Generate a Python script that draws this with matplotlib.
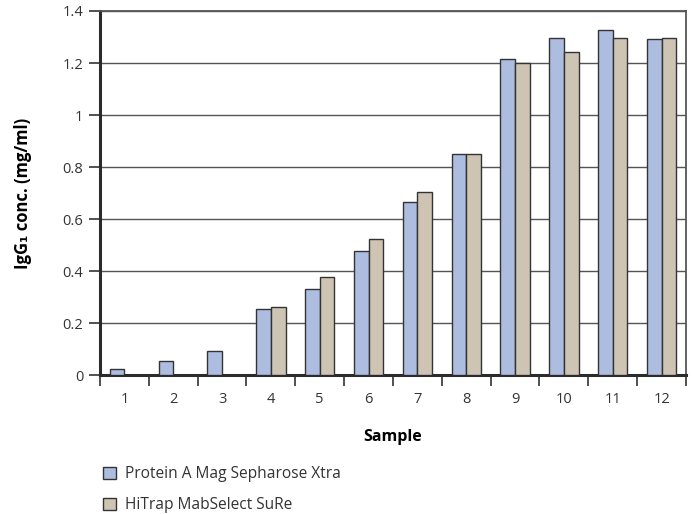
import matplotlib.pyplot as plt
import numpy as np
from matplotlib.patches import Patch
from matplotlib.ticker import FuncFormatter

plt.rcParams.update({
    'font.family': ['Open Sans', 'DejaVu Sans'],
    'font.size': 11,
    'text.color': '#333333',
    'xtick.color': '#333333',
    'ytick.color': '#333333',
})

samples = [str(i) for i in range(1, 13)]
protein_a_mag = [0.025, 0.053, 0.094, 0.253, 0.330, 0.477, 0.667, 0.851, 1.215, 1.297, 1.328, 1.292]
hitrap_mabselect = [0.0, 0.0, 0.0, 0.263, 0.376, 0.523, 0.703, 0.851, 1.201, 1.241, 1.297, 1.297]
series_labels = ['Protein A Mag Sepharose Xtra', 'HiTrap MabSelect SuRe']
colors = ['#adbde0', '#cdc4b3']
edge = '#333333'

fig = plt.figure(figsize=(6.92, 5.14), dpi=100)
ax = fig.add_axes([0.1445, 0.2704, 0.8468, 0.7082])

x = np.arange(1, len(samples) + 1)
bar_width = 0.3
ax.bar(x - bar_width / 2, protein_a_mag, bar_width, color=colors[0], edgecolor=edge, linewidth=1.0, zorder=3)
mask = np.array(hitrap_mabselect) > 0
ax.bar(x[mask] + bar_width / 2, np.array(hitrap_mabselect)[mask], bar_width, color=colors[1],
       edgecolor=edge, linewidth=1.0, zorder=3)

ax.set_xlim(0.5, 12.5)
ax.set_ylim(0, 1.4)
ax.set_yticks(np.arange(0, 1.41, 0.2))
ax.yaxis.set_major_formatter(FuncFormatter(lambda v, p: f"{v:g}"))
ax.grid(axis='y', color='#555555', linewidth=1.0, zorder=0)

# boundaries as ticks, labels centred between them
ax.set_xticks(np.arange(0.5, 12.6, 1.0))
ax.set_xticklabels([])
ax.set_xticks(x, minor=True)
ax.set_xticklabels(samples, minor=True)
ax.tick_params(axis='x', which='major', length=8, width=1.2, color='#333333')
ax.tick_params(axis='x', which='minor', length=0, pad=12, labelsize=10.5)
ax.tick_params(axis='y', length=8, width=1.2, color='#333333', pad=4, labelsize=10.5)

for side in ['left', 'bottom']:
    ax.spines[side].set_linewidth(2.2)
    ax.spines[side].set_color('#2b2b2b')
for side in ['top', 'right']:
    ax.spines[side].set_linewidth(1.3)
    ax.spines[side].set_color('#555555')

ax.set_xlabel('Sample', fontweight='bold', fontsize=11.5, labelpad=16)
ax.set_ylabel('IgG₁ conc. (mg/ml)', fontweight='bold', fontsize=12, labelpad=22)

handles = [Patch(facecolor=c, edgecolor=edge, linewidth=1.0) for c in colors]
fig.legend(handles, series_labels, loc='upper left', bbox_to_anchor=(0.128, 0.12), frameon=False,
           handlelength=0.85, handleheight=0.85, handletextpad=0.6, labelspacing=0.95, fontsize=11.2)

fig.savefig('out.png', dpi=100)
